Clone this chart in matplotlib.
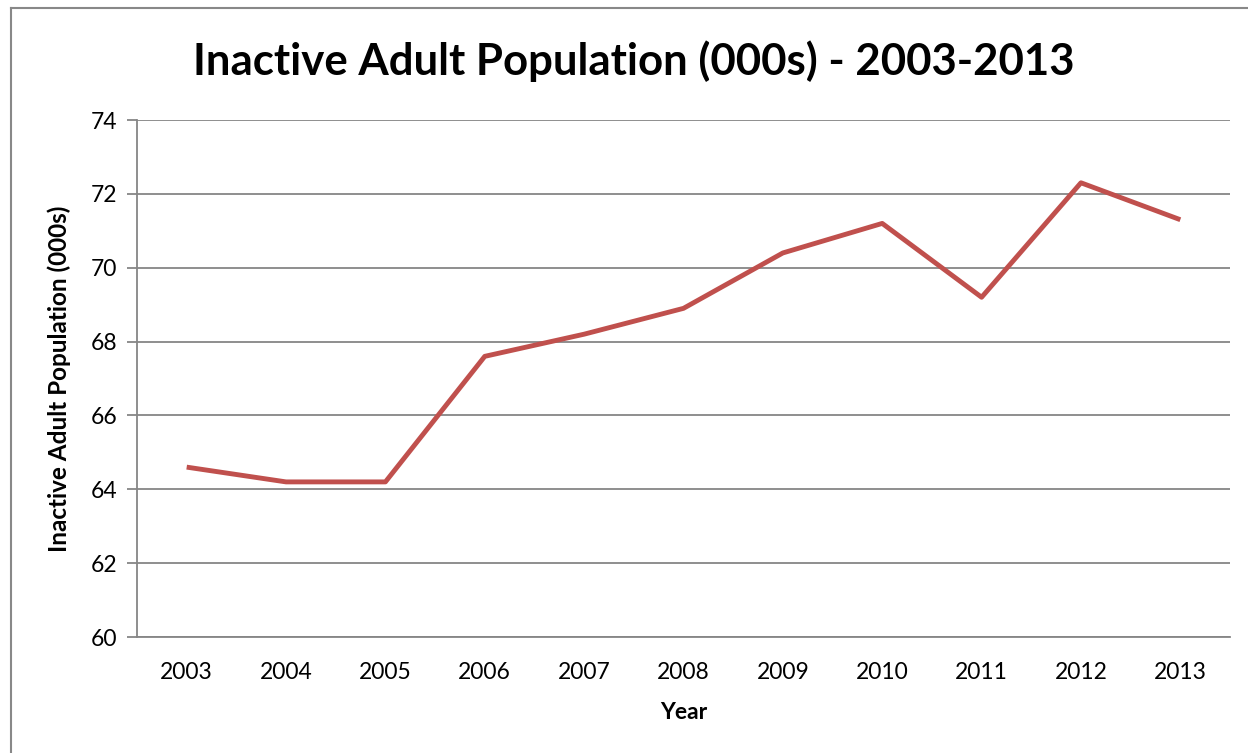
import matplotlib.pyplot as plt
from matplotlib.lines import Line2D

years = ['2003', '2004', '2005', '2006', '2007', '2008', '2009', '2010', '2011', '2012', '2013']
population = [64.6, 64.2, 64.2, 67.6, 68.2, 68.9, 70.4, 71.2, 69.2, 72.3, 71.3]
y_ticks = [60, 62, 64, 66, 68, 70, 72, 74]

plt.rcParams['font.family'] = ['Lato', 'DejaVu Sans']

W, H = 1248, 753
fig = plt.figure(figsize=(W / 100, H / 100), dpi=100)
ax = fig.add_axes([137 / W, 1 - 637 / H, (1230 - 137) / W, (637 - 120) / H])

x = list(range(len(years)))
ax.plot(x, population, color='#C0504D', linewidth=3.5, solid_capstyle='butt', zorder=3)

ax.set_xlim(-0.5, len(years) - 0.5)
ax.set_ylim(60, 74)
ax.set_yticks(y_ticks)
ax.set_xticks(x)
ax.set_xticklabels(years)
ax.yaxis.grid(True, color='#868686', linewidth=1.3)
ax.set_axisbelow(True)

for s in ['top', 'right']:
    ax.spines[s].set_visible(False)
for s in ['left', 'bottom']:
    ax.spines[s].set_color('#868686')
    ax.spines[s].set_linewidth(1.3)

ax.tick_params(axis='y', length=7, width=1.3, color='#868686', labelsize=16.5, pad=7)
ax.tick_params(axis='x', length=0, labelsize=16.5, pad=18)

ax.set_xlabel('Year', fontsize=16.5, fontweight='bold', labelpad=14)
ax.set_ylabel('Inactive Adult Population (000s)', fontsize=17.5, fontweight='bold', labelpad=14)

fig.text(634 / W, 1 - 61 / H, 'Inactive Adult Population (000s) - 2003-2013',
         fontsize=31.5, fontweight='bold', ha='center', va='center')

# outer chart frame (only left and top visible)
fig.add_artist(Line2D([11 / W, 11 / W], [0, 1 - 8 / H], transform=fig.transFigure,
                      color='#888888', linewidth=1.5))
fig.add_artist(Line2D([11 / W, 1], [1 - 8 / H, 1 - 8 / H], transform=fig.transFigure,
                      color='#888888', linewidth=1.5))

fig.savefig('out.png', dpi=100)
